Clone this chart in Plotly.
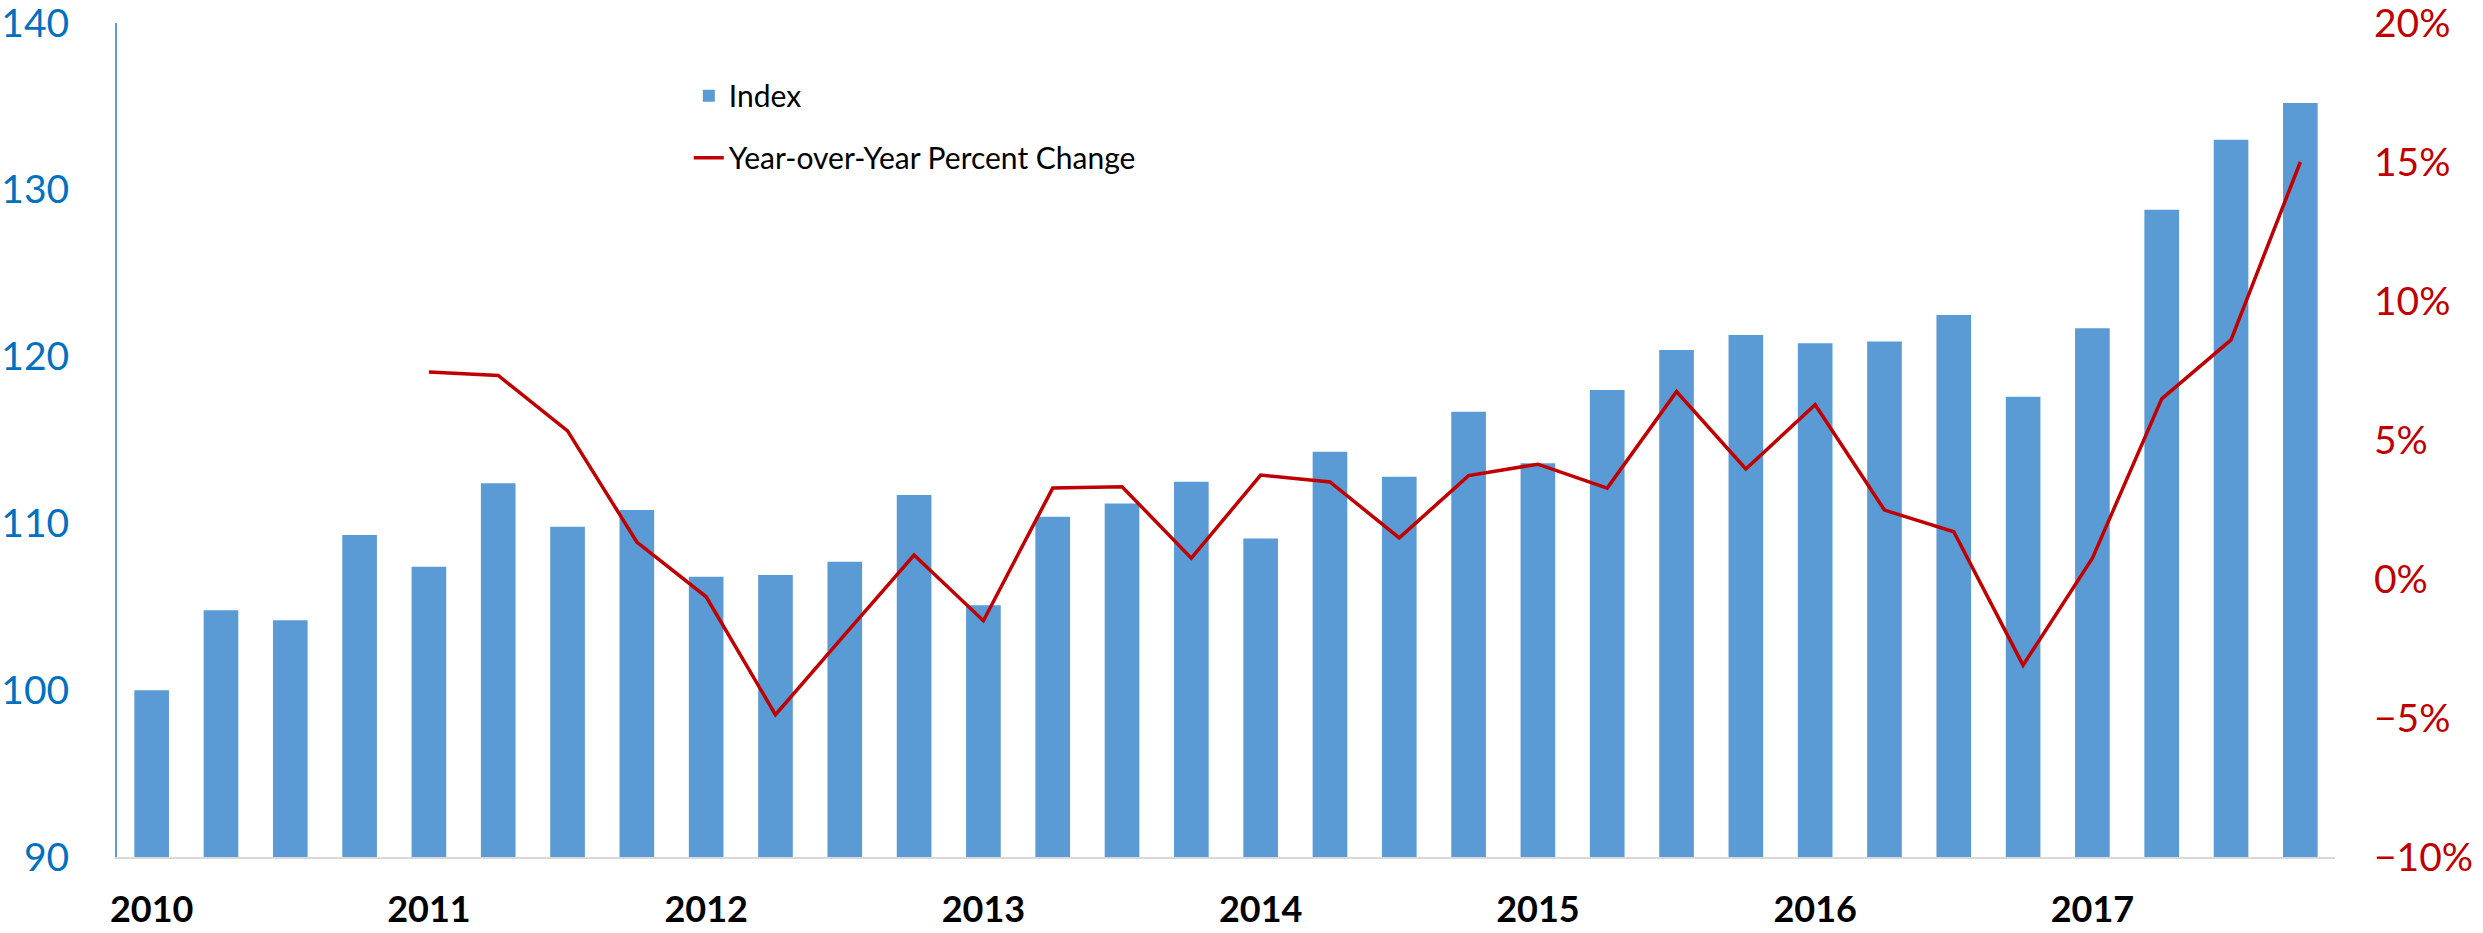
import plotly.graph_objects as go

years = [2010, 2011, 2012, 2013, 2014, 2015, 2016, 2017]
quarters = [f"{y}Q{q}" for y in years for q in range(1, 5)]

index_values = [
    100.0, 104.8, 104.2, 109.3,
    107.4, 112.4, 109.8, 110.8,
    106.8, 106.9, 107.7, 111.7,
    105.1, 110.4, 111.2, 112.5,
    109.1, 114.3, 112.8, 116.7,
    113.6, 118.0, 120.4, 121.3,
    120.8, 120.9, 122.5, 117.6,
    121.7, 128.8, 133.0, 135.2,
]

yoy_change = [
    None, None, None, None,
    0.0745, 0.0732, 0.0533, 0.0133,
    -0.0064, -0.0488, -0.0200, 0.0086,
    -0.0150, 0.0327, 0.0332, 0.0075,
    0.0374, 0.0349, 0.0148, 0.0372,
    0.0413, 0.0327, 0.0674, 0.0396,
    0.0627, 0.0248, 0.0170, -0.0310,
    0.0075, 0.0648, 0.0860, 0.1500,
]

year_ticks = [f"{y}Q1" for y in years]
year_labels = [str(y) for y in years]

BAR = "#5B9BD5"
RED = "#C00000"
BLUE_TXT = "#0070C0"

fig = go.Figure()
fig.add_trace(go.Bar(
    x=quarters, y=index_values, name="Index",
    marker=dict(color=BAR, line=dict(width=0)),
    legendgroup="a", yaxis="y",
))
fig.add_trace(go.Scatter(
    x=quarters, y=yoy_change, name="Year-over-Year Percent Change",
    mode="lines", line=dict(color=RED, width=3.5),
    legendgroup="b", yaxis="y2", connectgaps=False,
))

fig.update_layout(
    width=2483, height=933,
    margin=dict(l=117, r=148, t=23, b=76, autoexpand=False),
    paper_bgcolor="white", plot_bgcolor="white",
    bargap=0.5,
    font=dict(family="Lato, sans-serif", color="black"),
    showlegend=True,
    legend=dict(
        x=0.2578, y=0.944, xanchor="left", yanchor="top",
        font=dict(family="Lato, sans-serif", size=30, color="black"),
        bgcolor="rgba(0,0,0,0)", tracegroupgap=20, traceorder="grouped",
    ),
    xaxis=dict(
        type="category", categoryorder="array", categoryarray=quarters,
        range=[-0.5, 31.5], automargin=False,
        tickmode="array", tickvals=year_ticks, ticktext=year_labels,
        tickfont=dict(family="Lato, sans-serif", size=36, color="black", weight="bold"),
        showgrid=False, zeroline=False,
        showline=True, linecolor="#D9D9D9", linewidth=2,
        ticks="", ticklabelstandoff=20, ticklabeloverflow="allow",
    ),
    yaxis=dict(
        range=[90, 140], dtick=10, tick0=90, automargin=False,
        tickfont=dict(family="Lato, sans-serif", size=39, color=BLUE_TXT),
        showgrid=False, zeroline=False,
        showline=True, linecolor=BAR, linewidth=2,
        ticks="", ticklabelstandoff=38, ticklabeloverflow="allow",
    ),
    yaxis2=dict(
        range=[-0.10, 0.20], dtick=0.05, tick0=-0.10, automargin=False,
        tickformat=".0%", overlaying="y", side="right",
        tickfont=dict(family="Lato, sans-serif", size=39, color=RED),
        showgrid=False, zeroline=False, showline=False,
        ticks="", ticklabelstandoff=38, ticklabeloverflow="allow",
    ),
)

fig.write_html(
    "out.html",
    config={"displayModeBar": False},
    post_script="document.body.style.margin='0';document.body.style.padding='0';document.body.style.overflow='hidden';",
)
